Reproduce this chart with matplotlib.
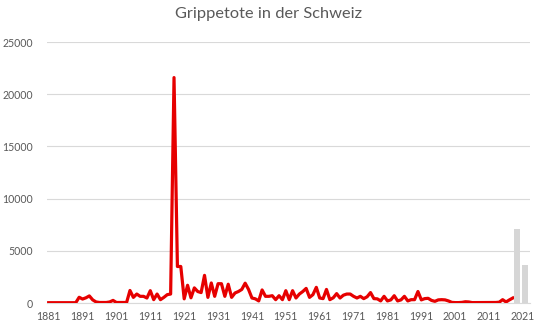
import matplotlib
matplotlib.use("Agg")
import matplotlib.pyplot as plt
import numpy as np

plt.rcParams['font.family'] = ['Lato', 'DejaVu Sans']

# Grippetote pro Jahr, 1881-2018
years = list(range(1881, 2019))
deaths = [
    30, 30, 30, 30, 30, 30, 30, 30, 30, 550,            # 1881-1890
    380, 500, 680, 300, 100, 50, 50, 50, 100, 250,      # 1891-1900
    50, 50, 50, 50, 1200, 540, 860, 640, 640, 480,      # 1901-1910
    1180, 320, 860, 320, 540, 800, 860, 21600, 3500, 3500,  # 1911-1920
    400, 1700, 500, 1450, 1100, 1000, 2650, 540, 1920, 640,  # 1921-1930
    1850, 1850, 640, 1800, 540, 960, 1100, 1300, 1900, 1300,  # 1931-1940
    480, 400, 200, 1250, 640, 640, 700, 320, 700, 320,  # 1941-1950
    1180, 320, 1180, 480, 860, 1100, 1400, 540, 800, 1500,  # 1951-1960
    480, 420, 1300, 320, 500, 900, 480, 750, 860, 860,  # 1961-1970
    640, 480, 640, 420, 600, 1000, 420, 400, 200, 640,  # 1971-1980
    200, 300, 700, 200, 300, 640, 200, 320, 320, 1100,  # 1981-1990
    300, 420, 450, 250, 160, 300, 320, 300, 200, 60,    # 1991-2000
    40, 40, 60, 120, 100, 40, 40, 50, 50, 50,           # 2001-2010
    40, 40, 50, 80, 320, 100, 300, 480,                 # 2011-2018
]

# Covid-Tote als Balken
covid_years = [2020, 2021]
covid_deaths = [7100, 3600]

x_labels = list(range(1881, 2022, 10))
y_ticks = [0, 5000, 10000, 15000, 20000, 25000]

text_col = '#595959'
grid_col = '#d9d9d9'

fig = plt.figure(figsize=(5.4, 3.29), dpi=100)
ax = fig.add_axes([0.087, 0.079, 0.894, 0.793])

ax.plot(years, deaths, color='#e60000', lw=2.3, solid_joinstyle='round', zorder=3)

ax.set_xlim(1880.5, 2023)
ax.set_ylim(0, 25000)
ax.set_yticks(y_ticks)
ax.set_yticklabels([str(v) for v in y_ticks])
ax.set_xticks(x_labels)
ax.set_xticklabels([str(v) for v in x_labels])
ax.tick_params(axis='both', length=0, labelsize=7.6, colors=text_col)
ax.tick_params(axis='y', pad=10)
ax.tick_params(axis='x', pad=6)
ax.yaxis.grid(True, color=grid_col, lw=0.8)
ax.set_axisbelow(True)
for s in ['top', 'right', 'left']:
    ax.spines[s].set_visible(False)
ax.spines['bottom'].set_color(grid_col)
ax.spines['bottom'].set_linewidth(0.8)

# Balken auf eigener Kategorienachse (wie Sekundaerachse)
ax2 = ax.twiny()
ax2.bar(covid_years, covid_deaths, width=0.7, color='#d6d6d6', zorder=2)
ax2.set_xlim(1964.7, 2021.53)
ax2.set_ylim(0, 25000)
ax2.set_xticks([])
for s in ax2.spines.values():
    s.set_visible(False)

fig.suptitle('Grippetote in der Schweiz', x=0.497, y=0.978, fontsize=11.8,
             color=text_col)

fig.savefig('out.png', dpi=100)
